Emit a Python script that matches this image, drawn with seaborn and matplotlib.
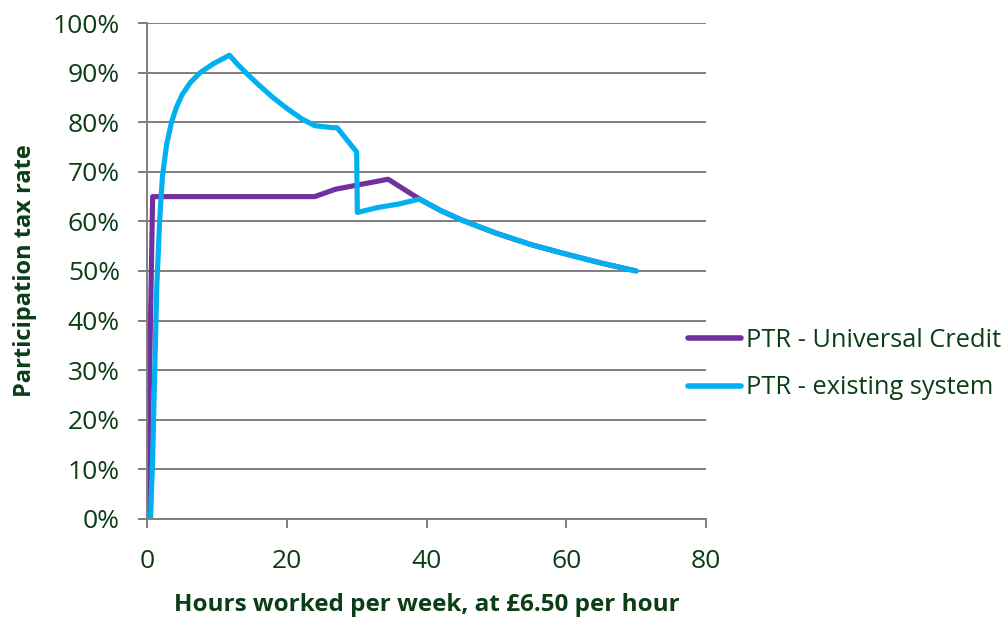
import matplotlib
matplotlib.use("Agg")
import matplotlib.pyplot as plt
import seaborn as sns
import pandas as pd
from matplotlib.ticker import PercentFormatter

# Data
uc_hours = [0, 0.8, 5, 10, 15, 20, 24, 27, 30, 34.5, 39, 42, 45, 50, 55, 60, 65, 70]
uc_ptr = [0, 65, 65, 65, 65, 65, 65, 66.5, 67.3, 68.5, 64.5, 62.2, 60.3, 57.6, 55.3, 53.4, 51.6, 50]

es_hours = [0.5, 0.8, 1.1, 1.4, 1.8, 2.2, 2.8, 3.5, 4.2, 5.0, 6.2, 7.6, 9.5, 11.8,
            13, 14.5, 16, 18, 20, 22, 24, 26.5, 27.2, 30, 30.1, 33, 36, 39, 42, 45, 50, 55, 60, 65, 70]
es_ptr = [0, 12, 30, 47, 60, 69, 75.5, 80, 83, 85.5, 88, 90, 91.8, 93.5,
          91.6, 89.5, 87.5, 85, 82.8, 80.8, 79.3, 78.9, 78.9, 74, 61.8, 62.8, 63.5, 64.5, 62.2, 60.3, 57.6, 55.3, 53.4, 51.6, 50]

series_names = ["PTR - Universal Credit", "PTR - existing system"]
colors = ["#7030a0", "#00b0f0"]

df = pd.concat([
    pd.DataFrame({"hours": uc_hours, "ptr": uc_ptr, "series": series_names[0]}),
    pd.DataFrame({"hours": es_hours, "ptr": es_ptr, "series": series_names[1]}),
])

sns.set_theme(style="white")
plt.rcParams['font.family'] = ['Open Sans', 'DejaVu Sans']
text_color = "#0b3d16"

fig = plt.figure(figsize=(10.01, 6.19), dpi=100)
ax = fig.add_axes([0.1469, 0.1616, 0.7053 - 0.1469, 0.9628 - 0.1616])

sns.lineplot(data=df, x="hours", y="ptr", hue="series", palette=colors,
             hue_order=series_names, sort=False, estimator=None,
             linewidth=3.7, ax=ax, legend=True)
for ln in ax.get_lines():
    ln.set_solid_joinstyle("round")
    ln.set_solid_capstyle("round")

ax.set_xlim(0, 80)
ax.set_ylim(0, 100)
ax.set_xticks([0, 20, 40, 60, 80])
ax.set_yticks(range(0, 101, 10))
ax.yaxis.set_major_formatter(PercentFormatter(decimals=0))
ax.grid(axis="y", color="#7f7f7f", linewidth=1.4)
ax.set_axisbelow(True)

for s in ["top", "right"]:
    ax.spines[s].set_visible(False)
for s in ["left", "bottom"]:
    ax.spines[s].set_color("#7f7f7f")
    ax.spines[s].set_linewidth(1.4)

ax.tick_params(axis="both", which="major", direction="out", length=6.5, width=1.4,
               color="#7f7f7f", labelsize=19, labelcolor=text_color, left=True, bottom=True)
ax.tick_params(axis="y", pad=13)
ax.tick_params(axis="x", pad=15)

ax.set_xlabel("Hours worked per week, at £6.50 per hour", fontsize=17.5, fontweight="bold",
              color=text_color, labelpad=14)
ax.set_ylabel("Participation tax rate", fontsize=17, fontweight="bold",
              color=text_color, labelpad=11)

leg = ax.legend(loc="center left", bbox_to_anchor=(688 / 1001, 1 - 364 / 619),
                bbox_transform=fig.transFigure, borderaxespad=0, borderpad=0,
                frameon=False, fontsize=18.3, handlelength=2.1, handletextpad=0.2,
                labelspacing=0.9)
for t in leg.get_texts():
    t.set_color(text_color)
for h in leg.get_lines():
    h.set_linewidth(4)
    h.set_solid_capstyle("round")

fig.savefig("out.png", dpi=100)
